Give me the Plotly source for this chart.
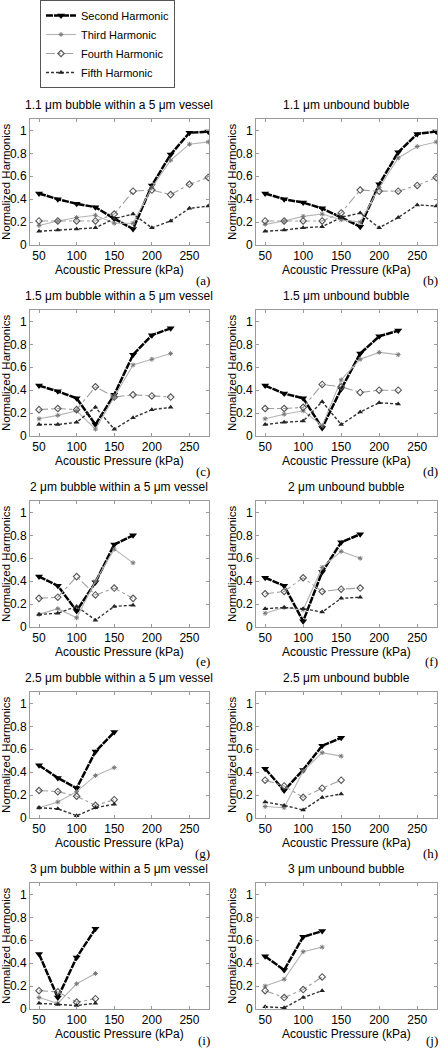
import plotly.graph_objects as go

# ---------------- data ----------------
pressure_r1 = [50, 75, 100, 125, 150, 175, 200, 225, 250, 275]
pressure_r2 = [50, 75, 100, 125, 150, 175, 200, 225]
pressure_r3 = [50, 75, 100, 125, 150, 175]
pressure_r4 = [50, 75, 100, 125, 150]
pressure_r5 = [50, 75, 100, 125]
pressures = [pressure_r1, pressure_r1, pressure_r2, pressure_r2, pressure_r3,
             pressure_r3, pressure_r4, pressure_r4, pressure_r5, pressure_r5]

panel_titles = [
    "1.1 μm bubble within a 5 μm vessel", "1.1 μm unbound bubble",
    "1.5 μm bubble within a 5 μm vessel", "1.5 μm unbound bubble",
    "2 μm bubble within a 5 μm vessel", "2 μm unbound bubble",
    "2.5 μm bubble within a 5 μm vessel", "2.5 μm unbound bubble",
    "3 μm bubble within a 5 μm vessel", "3 μm unbound bubble",
]
panel_labels = ["(a)", "(b)", "(c)", "(d)", "(e)", "(f)", "(g)", "(h)", "(i)", "(j)"]

second = [
    [0.45, 0.40, 0.36, 0.33, 0.23, 0.14, 0.52, 0.79, 0.98, 0.99],
    [0.45, 0.40, 0.37, 0.32, 0.24, 0.16, 0.53, 0.81, 0.97, 0.99],
    [0.44, 0.39, 0.33, 0.10, 0.36, 0.71, 0.88, 0.94],
    [0.44, 0.37, 0.33, 0.07, 0.41, 0.72, 0.87, 0.92],
    [0.44, 0.36, 0.14, 0.39, 0.72, 0.80],
    [0.43, 0.36, 0.05, 0.48, 0.74, 0.81],
    [0.46, 0.35, 0.26, 0.58, 0.75],
    [0.43, 0.24, 0.42, 0.63, 0.70],
    [0.48, 0.10, 0.45, 0.70],
    [0.46, 0.34, 0.63, 0.68],
]
third = [
    [0.17, 0.21, 0.24, 0.26, 0.19, 0.19, 0.50, 0.74, 0.88, 0.90],
    [0.18, 0.21, 0.25, 0.27, 0.22, 0.20, 0.50, 0.76, 0.86, 0.90],
    [0.15, 0.18, 0.22, 0.06, 0.34, 0.62, 0.67, 0.72],
    [0.15, 0.19, 0.22, 0.09, 0.49, 0.67, 0.73, 0.71],
    [0.11, 0.16, 0.08, 0.40, 0.68, 0.56],
    [0.12, 0.17, 0.15, 0.52, 0.66, 0.60],
    [0.09, 0.14, 0.23, 0.37, 0.44],
    [0.10, 0.09, 0.41, 0.57, 0.54],
    [0.10, 0.05, 0.22, 0.31],
    [0.20, 0.26, 0.50, 0.54],
]
fourth = [
    [0.21, 0.21, 0.21, 0.21, 0.27, 0.47, 0.48, 0.44, 0.53, 0.59],
    [0.21, 0.21, 0.21, 0.21, 0.28, 0.48, 0.47, 0.47, 0.52, 0.59],
    [0.23, 0.24, 0.23, 0.43, 0.34, 0.36, 0.35, 0.34],
    [0.24, 0.24, 0.25, 0.45, 0.43, 0.38, 0.40, 0.40],
    [0.25, 0.26, 0.44, 0.28, 0.34, 0.25],
    [0.29, 0.31, 0.43, 0.31, 0.33, 0.34],
    [0.24, 0.23, 0.19, 0.11, 0.16],
    [0.33, 0.28, 0.18, 0.26, 0.33],
    [0.16, 0.15, 0.06, 0.09],
    [0.16, 0.10, 0.17, 0.28],
]
fifth = [
    [0.12, 0.13, 0.14, 0.15, 0.23, 0.27, 0.15, 0.21, 0.32, 0.34],
    [0.12, 0.13, 0.15, 0.16, 0.24, 0.28, 0.15, 0.24, 0.35, 0.34],
    [0.10, 0.10, 0.12, 0.25, 0.06, 0.16, 0.23, 0.25],
    [0.10, 0.12, 0.13, 0.30, 0.10, 0.21, 0.29, 0.28],
    [0.11, 0.12, 0.18, 0.06, 0.18, 0.19],
    [0.16, 0.17, 0.16, 0.13, 0.25, 0.26],
    [0.09, 0.08, 0.02, 0.09, 0.12],
    [0.14, 0.11, 0.07, 0.18, 0.21],
    [0.05, 0.04, 0.03, 0.05],
    [0.02, 0.01, 0.10, 0.16],
]

x_ticks = [50, 100, 150, 200, 250]
y_ticks = [0, 0.2, 0.4, 0.6, 0.8, 1]
y_tick_text = ["0", "0.2", "0.4", "0.6", "0.8", "1"]

# ---------------- styles ----------------
series = [
    ("Second Harmonic", second, dict(color="black", width=2.5, dash="7px,1px"),
     dict(symbol="triangle-down", size=7, color="black")),
    ("Third Harmonic", third, dict(color="#b4b4b4", width=1.1),
     dict(symbol="asterisk-open", size=4, color="#777", line=dict(color="#777", width=1))),
    ("Fourth Harmonic", fourth, dict(color="#a0a0a0", width=1.1, dash="dashdot"),
     dict(symbol="diamond-open", size=5, color="#555", line=dict(color="#555", width=1.1))),
    ("Fifth Harmonic", fifth, dict(color="#333", width=1.4, dash="3px,2px"),
     dict(symbol="triangle-up", size=5, color="#222")),
]

W, H = 442, 1050
col_x = [(30, 209), (256, 437)]
row_top = [119, 310, 501, 692, 883]
plot_h = 126
FONT = "Liberation Sans, Arial, sans-serif"

fig = go.Figure()
annotations = []
layout_axes = {}

for i in range(10):
    r, c = divmod(i, 2)
    n = i + 1
    xs = "" if n == 1 else str(n)
    x0, x1 = col_x[c]
    top = row_top[r]
    bot = top + plot_h
    for name, data, line, marker in series:
        fig.add_trace(go.Scatter(
            x=pressures[i], y=data[i], mode="lines+markers", name=name,
            line=line, marker=marker, showlegend=(i == 0),
            xaxis="x" + xs, yaxis="y" + xs,
        ))
    axis_common = dict(
        showline=True, linecolor="#9a9a9a", linewidth=1, mirror="ticks",
        ticks="inside", ticklen=3, tickcolor="#9a9a9a", showgrid=False,
        zeroline=False, automargin=False,
        tickfont=dict(family=FONT, size=12, color="black"),
    )
    layout_axes["xaxis" + xs] = dict(
        axis_common, domain=[x0 / W, x1 / W], anchor="y" + xs,
        range=[38, 276], tickvals=x_ticks,
    )
    layout_axes["yaxis" + xs] = dict(
        axis_common, domain=[(H - bot) / H, (H - top) / H], anchor="x" + xs,
        range=[0, 1.1], tickvals=y_ticks, ticktext=y_tick_text,
    )
    xc = (x0 + x1) / 2
    # subplot title
    annotations.append(dict(
        text=panel_titles[i], x=xc / W, y=(H - (top - 14)) / H,
        xref="paper", yref="paper", showarrow=False, xanchor="center", yanchor="middle",
        font=dict(family=FONT, size=12, color="black"),
    ))
    # x-axis title
    annotations.append(dict(
        text="Acoustic Pressure (kPa)", x=xc / W, y=(H - (bot + 25)) / H,
        xref="paper", yref="paper", showarrow=False, xanchor="center", yanchor="middle",
        borderpad=0, font=dict(family=FONT, size=12, color="black"),
    ))
    # y-axis title
    annotations.append(dict(
        text="Normalized Harmonics", x=(x0 - 24) / W, y=(H - (top + bot) / 2) / H,
        xref="paper", yref="paper", showarrow=False, xanchor="center", yanchor="middle",
        borderpad=0, textangle=-90, font=dict(family=FONT, size=11.5, color="black"),
    ))
    # panel label
    annotations.append(dict(
        text=panel_labels[i], x=(x1 + 3) / W, y=(H - min(bot + 35, 1040)) / H,
        xref="paper", yref="paper", showarrow=False, xanchor="right", yanchor="middle",
        font=dict(family="Liberation Serif, Times New Roman, serif", size=13, color="black"),
    ))

fig.update_layout(
    width=W, height=H, margin=dict(l=0, r=0, t=0, b=0, autoexpand=False),
    paper_bgcolor="white", plot_bgcolor="white",
    annotations=annotations,
    legend=dict(
        x=40 / W, y=1, xanchor="left", yanchor="top",
        bordercolor="#555", borderwidth=1, bgcolor="white",
        font=dict(family=FONT, size=11, color="black"),
        itemwidth=30, tracegroupgap=0,
    ),
    **layout_axes,
)

fig.write_html(
    "out.html",
    config={"displayModeBar": False},
    post_script="document.body.style.margin='0';document.body.style.overflow='hidden';",
)
